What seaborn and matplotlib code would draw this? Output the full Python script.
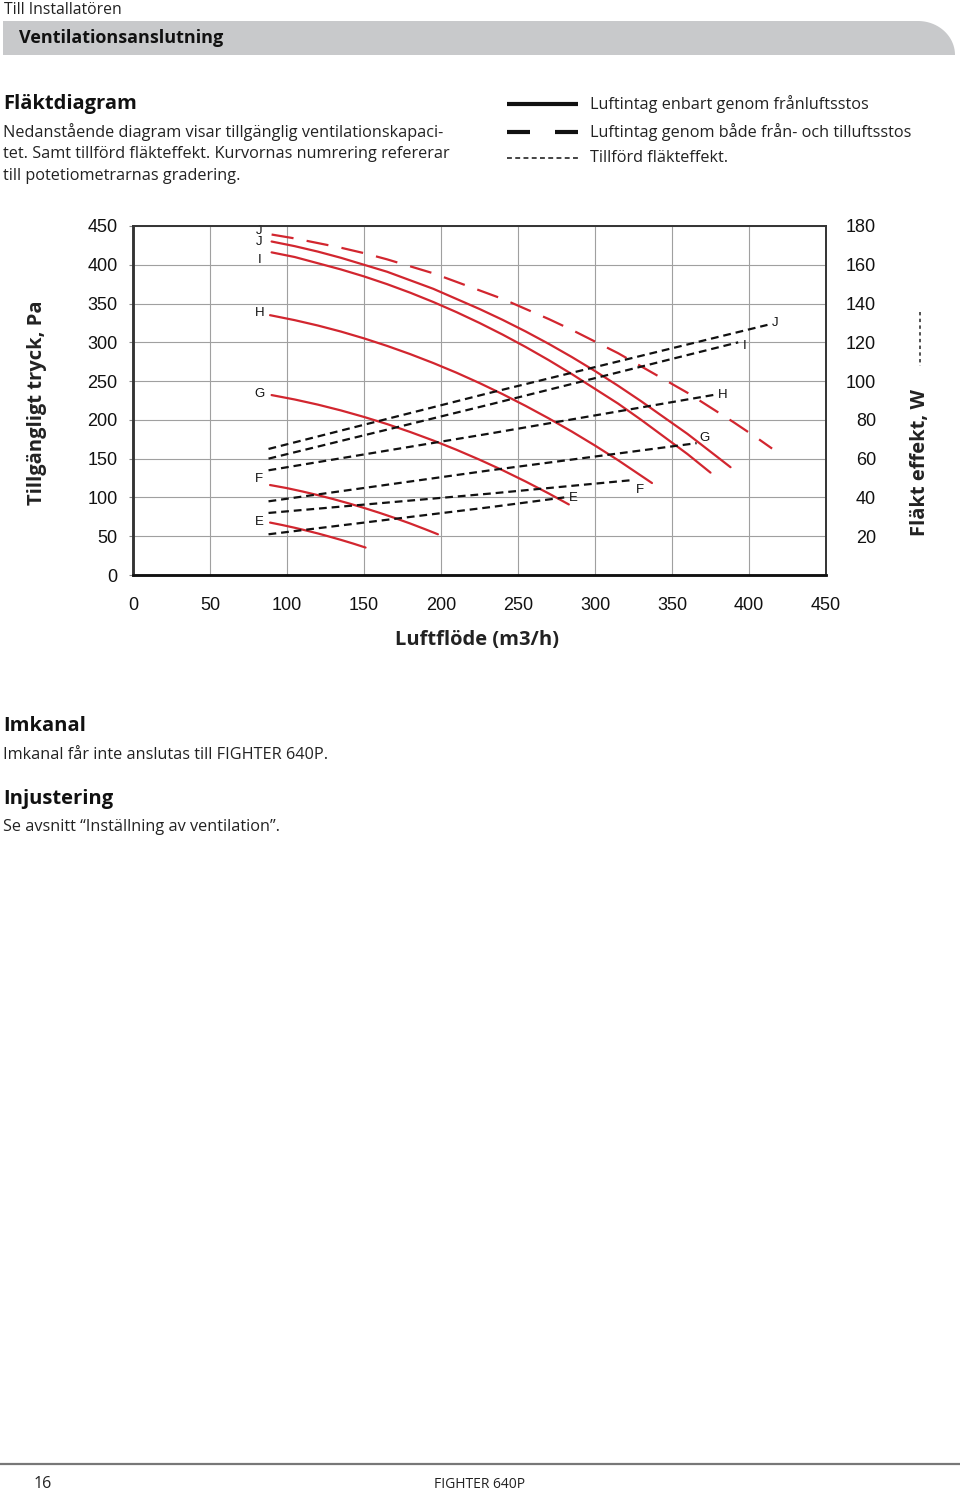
import matplotlib
matplotlib.use("Agg")
import matplotlib.pyplot as plt
import numpy as np
import pandas as pd
import seaborn as sns
from matplotlib.patches import Polygon
from matplotlib.lines import Line2D

# ---- data ----
# pressure curves (Pa) vs air flow (m3/h)
flow_J_both = [90, 105, 120, 135, 150, 165, 180, 195, 210, 225, 240, 255,
               270, 285, 300, 315, 330, 345, 360, 375, 390, 405, 415]
pres_J_both = [439, 434, 428, 422, 415, 407, 398, 389, 378, 367, 356, 343,
               330, 316, 301, 286, 269, 252, 235, 216, 197, 177, 163]

flow_J = [90, 105, 120, 135, 150, 165, 180, 195, 210, 225, 240, 255,
          270, 285, 300, 315, 330, 345, 360, 375, 388]
pres_J = [430, 424, 417, 409, 400, 391, 380, 369, 356, 343, 329, 314,
          298, 281, 263, 244, 224, 203, 182, 159, 139]

flow_I = [90, 105, 120, 135, 150, 165, 180, 195, 210, 225, 240, 255,
          270, 285, 300, 315, 330, 345, 360, 375]
pres_I = [416, 410, 402, 394, 385, 375, 364, 352, 339, 325, 310, 294,
          277, 259, 240, 221, 200, 178, 156, 132]

flow_H = [89, 105, 120, 135, 150, 165, 180, 195, 210, 225, 240, 255,
          270, 285, 300, 315, 337]
pres_H = [335, 328.6, 321.7, 313.9, 305.1, 295.4, 284.8, 273.3, 260.9, 247.5,
          233.2, 218, 201.9, 184.9, 166.9, 148, 118.6]

flow_G = [90, 105, 120, 135, 150, 165, 180, 195, 210, 225, 240, 255, 270, 283]
pres_G = [232, 226.3, 219.7, 212.2, 203.8, 194.6, 184.4, 173.4, 161.5, 148.7,
          135.1, 120.5, 105.1, 91]

flow_F = [89, 100, 110, 120, 130, 140, 150, 160, 170, 180, 190, 198]
pres_F = [116, 112, 107.7, 103, 97.9, 92.4, 86.5, 80.2, 73.5, 66.4, 58.8, 52.5]

flow_E = [89, 97, 105, 112, 120, 127, 135, 143, 151]
pres_E = [67.6, 64.4, 60.9, 57.6, 53.6, 49.8, 45.3, 40.5, 35.4]

# fan power lines (W)
power_flow = {
    "J": [88, 232, 412],
    "I": [88, 232, 393],
    "H": [88, 232, 378],
    "G": [88, 232, 366],
    "F": [88, 232, 325],
    "E": [88, 232, 280],
}
power_W = {
    "J": [65, 94, 129],
    "I": [60, 88, 120],
    "H": [54, 73, 93],
    "G": [38, 54, 68],
    "F": [32, 42, 49],
    "E": [21, 35, 40],
}

x_ticks = [0, 50, 100, 150, 200, 250, 300, 350, 400, 450]
y_ticks = [0, 50, 100, 150, 200, 250, 300, 350, 400, 450]
w_ticks = [20, 40, 60, 80, 100, 120, 140, 160, 180]

W, H = 960, 1492
RED = "#d2262f"
PAGE_FONT = ["Open Sans", "DejaVu Sans"]
CHART_FONT = ["Liberation Sans", "DejaVu Sans"]

sns.set_style("white")
plt.rcParams["font.family"] = PAGE_FONT


def fx(px):
    return px / W


def fy(py):
    return 1 - py / H


def fig_line(x0, x1, y0, y1, **kw):
    fig.lines.append(Line2D([fx(x0), fx(x1)], [fy(y0), fy(y1)],
                            transform=fig.transFigure, **kw))


fig = plt.figure(figsize=(9.6, 14.92), dpi=100)

# ---- page header ----
fig.text(fx(4), fy(10), "Till Installatören", fontsize=11.3, va="center", color="#222")
t = np.linspace(0, np.pi / 2, 30)
arc_x = 918 + 37 * np.sin(t)
arc_y = 55 - 34 * np.cos(t)
banner = [(3, 55), (3, 21)] + list(zip(arc_x, arc_y)) + [(955, 55)]
fig.patches.append(Polygon([(fx(a), fy(b)) for a, b in banner], closed=True,
                           transform=fig.transFigure, facecolor="#c8c9cb",
                           edgecolor="none", zorder=0))
fig.text(fx(19), fy(38), "Ventilationsanslutning", fontsize=13, fontweight="bold",
         va="center", color="#111")

fig.text(fx(3), fy(104), "Fläktdiagram", fontsize=14.5, fontweight="bold", va="center", color="#111")
para = ["Nedanstående diagram visar tillgänglig ventilationskapaci-",
        "tet. Samt tillförd fläkteffekt. Kurvornas numrering refererar",
        "till potetiometrarnas gradering."]
for i, line in enumerate(para):
    fig.text(fx(3), fy(132 + 22 * i), line, fontsize=11.7, va="center", color="#222")

# legend at top right
fig_line(507, 578, 104, 104, color="#111", lw=3, solid_capstyle="butt")
fig_line(507, 530, 132, 132, color="#111", lw=3, solid_capstyle="butt")
fig_line(555, 578, 132, 132, color="#111", lw=3, solid_capstyle="butt")
fig_line(507, 578, 158, 158, color="#111", lw=1.1, linestyle=(0, (3.2, 2.2)),
         dash_capstyle="butt")
legend_texts = ["Luftintag enbart genom frånluftsstos",
                "Luftintag genom både från- och tilluftsstos",
                "Tillförd fläkteffekt."]
for txt, yy in zip(legend_texts, [104, 132, 158]):
    fig.text(fx(590), fy(yy), txt, fontsize=11.7, va="center", color="#222")

# ---- chart ----
ax = fig.add_axes([fx(133), fy(575), fx(826) - fx(133), fy(226) - fy(575)])
ax.set_xlim(0, 450)
ax.set_ylim(0, 450)
ax.set_xticks(x_ticks)
ax.set_yticks(y_ticks)
ax.grid(True, color="#a0a0a0", lw=0.8)
ax.set_axisbelow(True)

curves = [
    (flow_J_both, pres_J_both, (0, (10, 6))),
    (flow_J, pres_J, "-"),
    (flow_I, pres_I, "-"),
    (flow_H, pres_H, "-"),
    (flow_G, pres_G, "-"),
    (flow_F, pres_F, "-"),
    (flow_E, pres_E, "-"),
]
for xs, ys, ls in curves:
    df = pd.DataFrame({"flow": xs, "pres": ys})
    sns.lineplot(data=df, x="flow", y="pres", ax=ax, color=RED, lw=1.6,
                 linestyle=ls, sort=False, estimator=None)

curve_labels = [("J", 444), ("J", 429), ("I", 406), ("H", 338), ("G", 234), ("F", 124), ("E", 68)]
for lab, yv in curve_labels:
    ax.text(82, yv, lab, fontsize=9.5, ha="center", va="center", family=CHART_FONT, color="#111")

ax.set_xlabel("")
ax.set_ylabel("")

ax2 = ax.twinx()
ax2.set_ylim(0, 180)
ax2.set_yticks(w_ticks)
for key in power_flow:
    df = pd.DataFrame({"flow": power_flow[key], "watt": power_W[key]})
    sns.lineplot(data=df, x="flow", y="watt", ax=ax2, color="#111", lw=1.6,
                 linestyle=(0, (3.5, 2.2)), sort=False, estimator=None)
power_labels = [("J", 417, 130), ("I", 397, 118), ("H", 383, 93),
                ("G", 371, 70.6), ("F", 329, 43.8), ("E", 286, 39.7)]
for lab, xv, yv in power_labels:
    ax2.text(xv, yv, lab, fontsize=9.5, ha="center", va="center", family=CHART_FONT, color="#111")
ax2.set_ylabel("")

# ticks and spines
ax.tick_params(axis="x", length=3, color="#888", pad=13, labelsize=13)
ax.tick_params(axis="y", length=3, color="#888", pad=8, labelsize=13)
ax2.tick_params(axis="y", length=0, pad=36, labelsize=13)
for lab in ax.get_xticklabels() + ax.get_yticklabels() + ax2.get_yticklabels():
    lab.set_family(CHART_FONT)
    lab.set_color("#111")
for lab in ax2.get_yticklabels():
    lab.set_ha("right")

for a in (ax, ax2):
    a.spines["left"].set(lw=1.8, color="#333")
    a.spines["bottom"].set(lw=1.8, color="#111")
    a.spines["top"].set(lw=1.2, color="#333")
    a.spines["right"].set(lw=1.2, color="#333")

fig.text(fx(477), fy(640), "Luftflöde (m3/h)", fontsize=14.5, fontweight="bold",
         ha="center", va="center", color="#222")
fig.text(fx(37), fy(403), "Tillgängligt tryck, Pa", fontsize=14.5, fontweight="bold",
         rotation=90, ha="center", va="center", color="#222")
fig.text(fx(920), fy(462), "Fläkt effekt, W", fontsize=14.5, fontweight="bold",
         rotation=90, ha="center", va="center", color="#222")
fig_line(920, 920, 312, 366, color="#222", lw=1.1, linestyle=(0, (2.2, 2.2)))

# ---- lower text ----
fig.text(fx(3), fy(726), "Imkanal", fontsize=14.5, fontweight="bold", va="center", color="#111")
fig.text(fx(3), fy(755), "Imkanal får inte anslutas till FIGHTER 640P.", fontsize=11.7,
         va="center", color="#222")
fig.text(fx(3), fy(799), "Injustering", fontsize=14.5, fontweight="bold", va="center", color="#111")
fig.text(fx(3), fy(827), "Se avsnitt \u201cInställning av ventilation\u201d.", fontsize=11.7,
         va="center", color="#222")

# ---- footer ----
fig_line(0, 960, 1464, 1464, color="#777", lw=1.6)
fig.text(fx(34), fy(1484), "16", fontsize=11.5, va="center", color="#222")
fig.text(fx(434), fy(1484), "FIGHTER 640P", fontsize=10, va="center", color="#222")

fig.savefig("out.png", dpi=100)
plt.close(fig)
